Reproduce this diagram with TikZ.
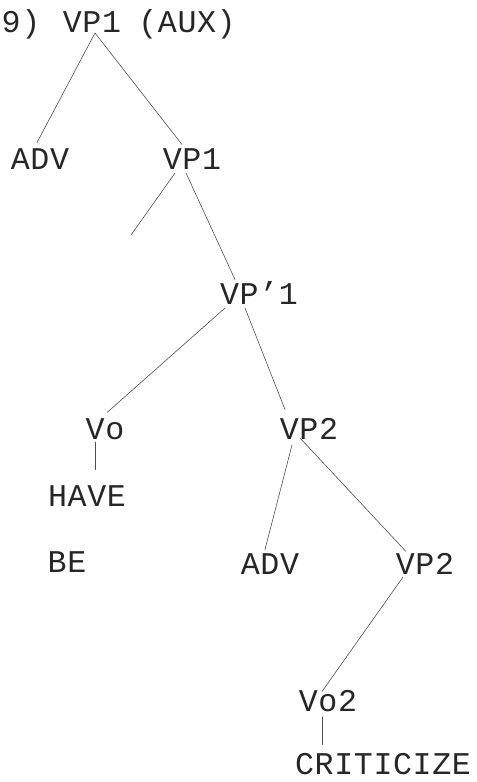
\documentclass[tikz,border=0pt]{standalone}
\usepackage{fontspec}
\newfontfamily\typefont[LetterSpace=2]{Liberation Mono}
\newcommand\pxl{0.03cm}
\tikzset{
	cat/.style={font=\typefont\fontsize{27}{29}\selectfont, anchor=south, inner sep=0pt, text height=0.57cm, text depth=0pt, text=black!85},
	branch/.style={draw=black!70, line width=0.5pt}
}
\begin{document}
\begin{tikzpicture}[x=0.03cm,y=-0.03cm,line join=round,line cap=round]
			% khung theo ảnh gốc
			\useasboundingbox (0,0) rectangle (477,782);
			% các nút
			\node[cat] (num) at (21,33) {9)};
			\node[cat] (vpa) at (92,33) {VP1};
			\node[cat] (aux) at (187,33) {(AUX)};
			\node[cat] (adva) at (40,170) {ADV};
			\node[cat] (vpb) at (192,170) {VP1};
			\coordinate (gap) at (131,235);
			\node[cat] (vpbar) at (259,305) {VP’1};
			\node[cat] (voa) at (105,440) {Vo};
			\node[cat] (have) at (87,507) {HAVE};
			\node[cat] (be) at (67,573) {BE};
			\node[cat] (vpc) at (309,440) {VP2};
			\node[cat] (advb) at (270,575) {ADV};
			\node[cat] (vpd) at (425,575) {VP2};
			\node[cat] (vob) at (328,712) {Vo2};
			\node[cat] (crit) at (383,775) {CRITICIZE};
			% các nhánh
			\draw [branch] ([xshift=3*\pxl]vpa.south)--([xshift=-3*\pxl,yshift=8*\pxl]adva.north);
			\draw [branch] ([xshift=3*\pxl]vpa.south)--([xshift=-10*\pxl,yshift=6*\pxl]vpb.north);
			\draw [branch] ([xshift=-17*\pxl,yshift=-3*\pxl]vpb.south)--(gap);
			\draw [branch] ([xshift=-6*\pxl,yshift=-3*\pxl]vpb.south)--([xshift=-24*\pxl,yshift=6*\pxl]vpbar.north);
			\draw [branch] ([xshift=-34*\pxl,yshift=-3*\pxl]vpbar.south)--([xshift=2*\pxl,yshift=8*\pxl]voa.north);
			\draw [branch] ([xshift=-14*\pxl,yshift=-3*\pxl]vpbar.south)--([xshift=-24*\pxl,yshift=11*\pxl]vpc.north);
			\draw [branch] ([xshift=-10*\pxl,yshift=-2*\pxl]voa.south)--([xshift=8*\pxl,yshift=18*\pxl]have.north);
			\draw [branch] ([xshift=-17*\pxl,yshift=-5*\pxl]vpc.south)--([xshift=-5*\pxl,yshift=6*\pxl]advb.north);
			\draw [branch] ([xshift=-9*\pxl,yshift=2*\pxl]vpc.south)--([xshift=-19*\pxl,yshift=4*\pxl]vpd.north);
			\draw [branch] ([xshift=-22*\pxl,yshift=-2*\pxl]vpd.south)--([xshift=-6*\pxl,yshift=1*\pxl]vob.north);
			\draw [branch] ([xshift=-6*\pxl,yshift=-5*\pxl]vob.south)--([xshift=-61*\pxl,yshift=11*\pxl]crit.north);
\end{tikzpicture}
\end{document}
